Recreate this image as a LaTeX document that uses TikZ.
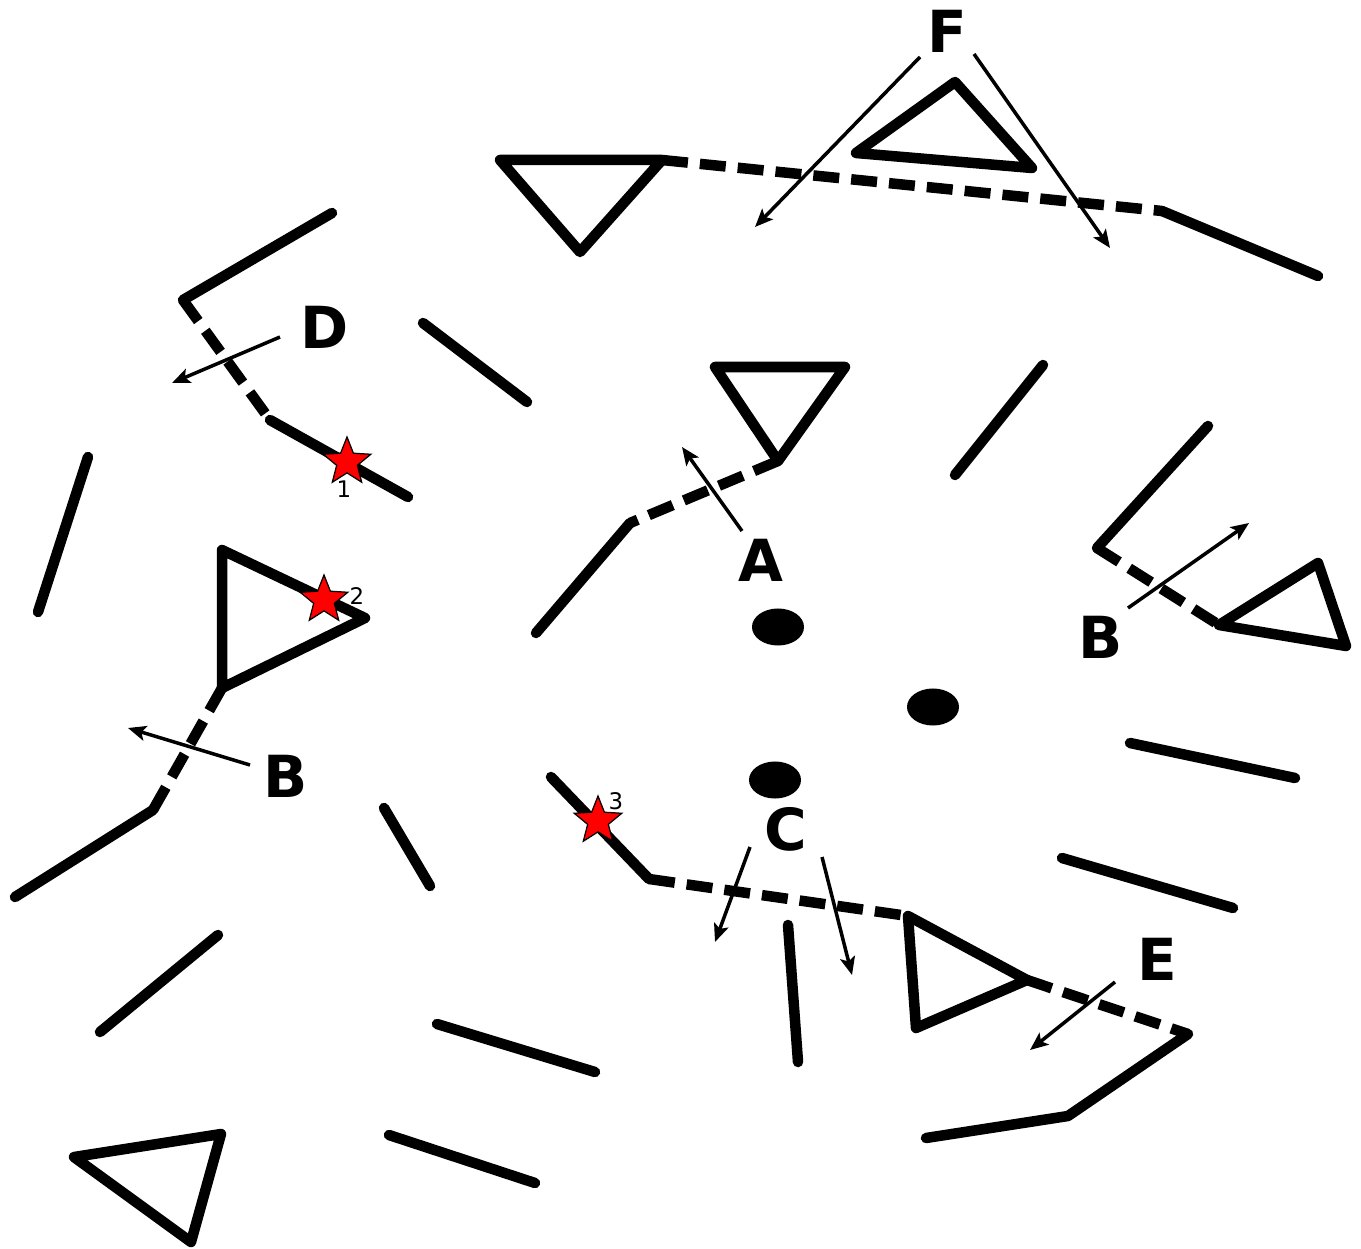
\documentclass[tikz,border=0pt]{standalone}
\usepackage{fontspec}
\setmainfont{DejaVu Sans}
\usetikzlibrary{shapes.geometric,arrows.meta}
\tikzset{
  wall/.style={line width=0.105cm, line cap=round, line join=round},
  tri/.style={line width=0.105cm, line join=round},
  gap/.style={line width=0.105cm, line cap=butt, dash pattern=on 0.26cm off 0.12cm},
  flow/.style={line width=0.035cm, -{Stealth[length=0.18cm,width=0.15cm,inset=0.04cm]}},
  lbl/.style={font=\bfseries\fontsize{16.5}{16.5}\selectfont, inner sep=0pt},
  num/.style={font=\fontsize{6.5}{6.5}\selectfont, inner sep=0pt},
  starmark/.style={star, star points=5, star point ratio=2.3, fill=red, draw=black,
     line width=0.35pt, minimum size=0.5cm, inner sep=0pt},
  dot/.style={ellipse, fill=black, minimum width=0.52cm, minimum height=0.37cm, inner sep=0pt}
}
\begin{document}
\begin{tikzpicture}[x=0.01cm,y=-0.01cm]
\useasboundingbox (0,0) rectangle (1361,1249);

% ---------- plain wall segments ----------
\draw[wall] (423,323) -- (527,402);
\draw[wall] (88,457) -- (38,612);
\draw[wall] (1043,365) -- (955,475);
\draw[wall] (1130,743) -- (1295,778);
\draw[wall] (1062,858) -- (1233,908);
\draw[wall] (384,808) -- (430,886);
\draw[wall] (788,925) -- (798,1062);
\draw[wall] (218,935) -- (100,1032);
\draw[wall] (437,1024) -- (595,1072);
\draw[wall] (389,1135) -- (535,1183);
\draw[tri] (74,1157) -- (221,1134) -- (191,1242) -- cycle;

% ---------- D ----------
\coordinate (d0) at (332,213);
\coordinate (d1) at (183,300);
\coordinate (d2) at (270,420);
\coordinate (d3) at (408,497);
\draw[wall] (d0) -- (d1);
\draw[gap] (d1) -- (d2);
\draw[wall] (d2) -- (d3);
\node[starmark] (s1) at (347,462) {};
\node[num] (n1) at (344,489) {1};
\node[lbl] (D) at (325,327) {D};
\coordinate (dA) at (280,337);
\coordinate (dB) at (172,383);
\draw[flow] (dA) -- (dB);

% ---------- left B ----------
\coordinate (t1) at (222,550);
\coordinate (t2) at (365,618);
\coordinate (t3) at (222,688);
\draw[tri] (t1) -- (t2) -- (t3) -- cycle;
\node[starmark] (s2) at (324,600) {};
\node[num] (n2) at (357,596) {2};
\coordinate (b1) at (153,810);
\coordinate (b2) at (15,897);
\draw[gap] (t3) -- (b1);
\draw[wall] (b1) -- (b2);
\node[lbl] (B1) at (286,776) {B};
\coordinate (bA) at (250,765);
\coordinate (bB) at (128,728);
\draw[flow] (bA) -- (bB);

% ---------- top / F ----------
\coordinate (u1) at (500,160);
\coordinate (u2) at (662,160);
\coordinate (u3) at (580,252);
\draw[tri] (u1) -- (u2) -- (u3) -- cycle;
\coordinate (f1) at (1162,211);
\coordinate (f2) at (1318,276);
\draw[gap] (u2) -- (f1);
\draw[wall] (f1) -- (f2);
\draw[tri] (856,153) -- (955,82) -- (1032,168) -- cycle;
\node[lbl] (F) at (947,31) {F};
\coordinate (fA) at (920,57);
\coordinate (fB) at (755,227);
\coordinate (fC) at (974,54);
\coordinate (fD) at (1110,248);
\draw[flow] (fA) -- (fB);
\draw[flow] (fC) -- (fD);

% ---------- A ----------
\coordinate (a1) at (715,367);
\coordinate (a2) at (845,367);
\coordinate (a3) at (778,461);
\draw[tri] (a1) -- (a2) -- (a3) -- cycle;
\coordinate (a4) at (630,523);
\coordinate (a5) at (536,633);
\draw[gap] (a3) -- (a4);
\draw[wall] (a4) -- (a5);
\node[lbl] (A) at (761,560) {A};
\coordinate (aA) at (742,531);
\coordinate (aB) at (682,447);
\draw[flow] (aA) -- (aB);

% ---------- dots ----------
\node[dot] (p1) at (778,627) {};
\node[dot] (p2) at (933,707) {};
\node[dot] (p3) at (775,780) {};

% ---------- right B ----------
\coordinate (r0) at (1208,426);
\coordinate (r1) at (1097,548);
\coordinate (r2) at (1219,625);
\coordinate (r3) at (1318,563);
\coordinate (r4) at (1346,646);
\draw[wall] (r0) -- (r1);
\draw[gap] (r1) -- (r2);
\draw[tri] (r2) -- (r3) -- (r4) -- cycle;
\node[lbl] (B2) at (1101,637) {B};
\coordinate (rA) at (1128,608);
\coordinate (rB) at (1249,523);
\draw[flow] (rA) -- (rB);

% ---------- C / E ----------
\coordinate (c0) at (551,777);
\coordinate (c1) at (649,879);
\coordinate (c2) at (908,916);
\coordinate (c3) at (1027,980);
\coordinate (c4) at (916,1028);
\draw[wall] (c0) -- (c1);
\draw[gap] (c1) -- (c2);
\draw[tri] (c2) -- (c3) -- (c4) -- cycle;
\node[starmark] (s3) at (598,821) {};
\node[num] (n3) at (616,801) {3};
\node[lbl] (C) at (786,829) {C};
\coordinate (cA) at (750,847);
\coordinate (cB) at (715,942);
\coordinate (cC) at (822,857);
\coordinate (cD) at (852,975);
\draw[flow] (cA) -- (cB);
\draw[flow] (cC) -- (cD);
\coordinate (e1) at (1188,1034);
\coordinate (e2) at (1068,1116);
\coordinate (e3) at (926,1138);
\draw[gap] (c3) -- (e1);
\draw[wall] (e1) -- (e2) -- (e3);
\node[lbl] (E) at (1157,959) {E};
\coordinate (eA) at (1115,982);
\coordinate (eB) at (1030,1050);
\draw[flow] (eA) -- (eB);
\end{tikzpicture}
\end{document}
